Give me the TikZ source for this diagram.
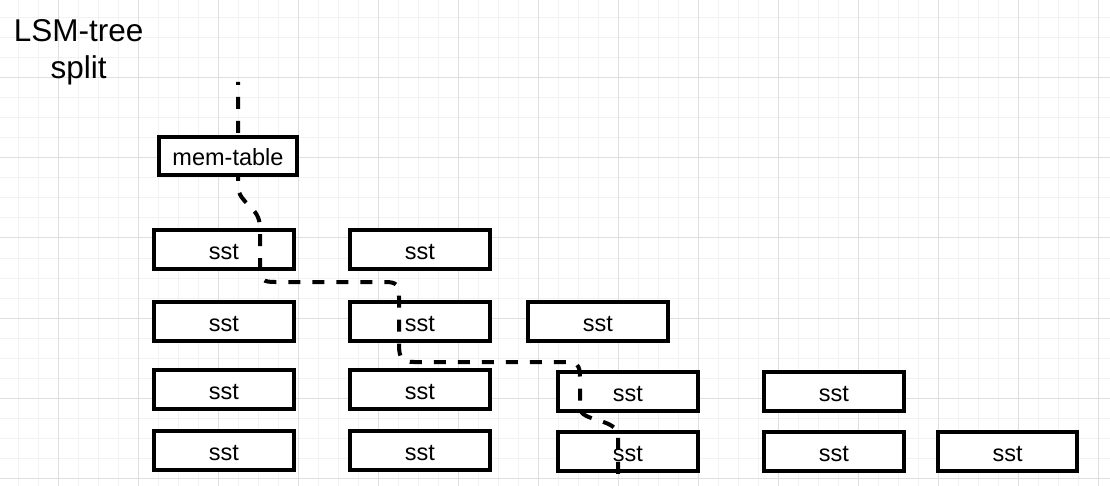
\documentclass[tikz,border=0pt]{standalone}
\usepackage{fontspec}
\setmainfont{Liberation Sans}
\begin{document}
\begin{tikzpicture}[x=1pt,y=-1pt,
  minorline/.style={draw=gray!10,line width=1pt},
  majorline/.style={draw=gray!25,line width=1pt},
  box/.style={draw=black,fill=white,line width=4pt,minimum width=139.5pt,minimum height=39pt,
    inner sep=0pt,text height=20pt,text depth=0pt,font=\fontsize{23.5}{28}\selectfont},
  flow/.style={draw=black,line width=4pt,dash pattern=on 12pt off 12pt,dash phase=9pt}]
\useasboundingbox (0,0) rectangle (1110,486);
\fill[white] (0,0) rectangle (1110,486);
% grid
\foreach \i in {0,...,54} {\path[minorline] (18.5+20*\i,0) -- (18.5+20*\i,486);}
\foreach \i in {0,...,23} {\path[minorline] (0,18+20*\i) -- (1110,18+20*\i);}
\foreach \i in {0,...,13} {\path[majorline] (58.5+80*\i,0) -- (58.5+80*\i,486);}
\foreach \i in {0,...,5} {\path[majorline] (0,78+80*\i) -- (1110,78+80*\i);}
% title
\node[font=\fontsize{31.5}{37.5}\selectfont,align=center,inner sep=0pt] (title) at (78.7,52.4) {LSM-tree\\split};
% sst boxes
\node[box] (s11) at (224,249.8) {sst};
\node[box] (s12) at (419.8,249.8) {sst};
\node[box] (s21) at (224,321.3) {sst};
\node[box] (s22) at (419.8,321.3) {sst};
\node[box] (s23) at (597.8,321.3) {sst};
\node[box] (s31) at (224,389.7) {sst};
\node[box] (s32) at (419.8,389.7) {sst};
\node[box] (s33) at (627.8,391.8) {sst};
\node[box] (s34) at (834,391.7) {sst};
\node[box] (s41) at (224,450.2) {sst};
\node[box] (s42) at (419.8,450.2) {sst};
\node[box] (s43) at (627.8,451.7) {sst};
\node[box] (s44) at (834,451.7) {sst};
\node[box] (s45) at (1007.7,451.7) {sst};
% path
\coordinate (pstart) at (238,82);
\coordinate (pend) at (618,477);
\path[flow] (pstart) -- (238,185) .. controls (238,205) and (260,205) .. (260,228)
  -- (260,268) .. controls (260,280) and (263,282) .. (275,282)
  -- (385,282) .. controls (397,282) and (399,285) .. (399,297)
  -- (399,345) .. controls (399,358) and (402,362) .. (414,362)
  -- (565,362) .. controls (577,362) and (580,365) .. (580,377)
  -- (580,408) .. controls (580,422) and (618,418) .. (618,436)
  -- (pend);
% mem-table on top
\node[box,minimum width=138.5pt,minimum height=38pt] (mem) at (228,156) {mem-table};
\end{tikzpicture}
\end{document}
